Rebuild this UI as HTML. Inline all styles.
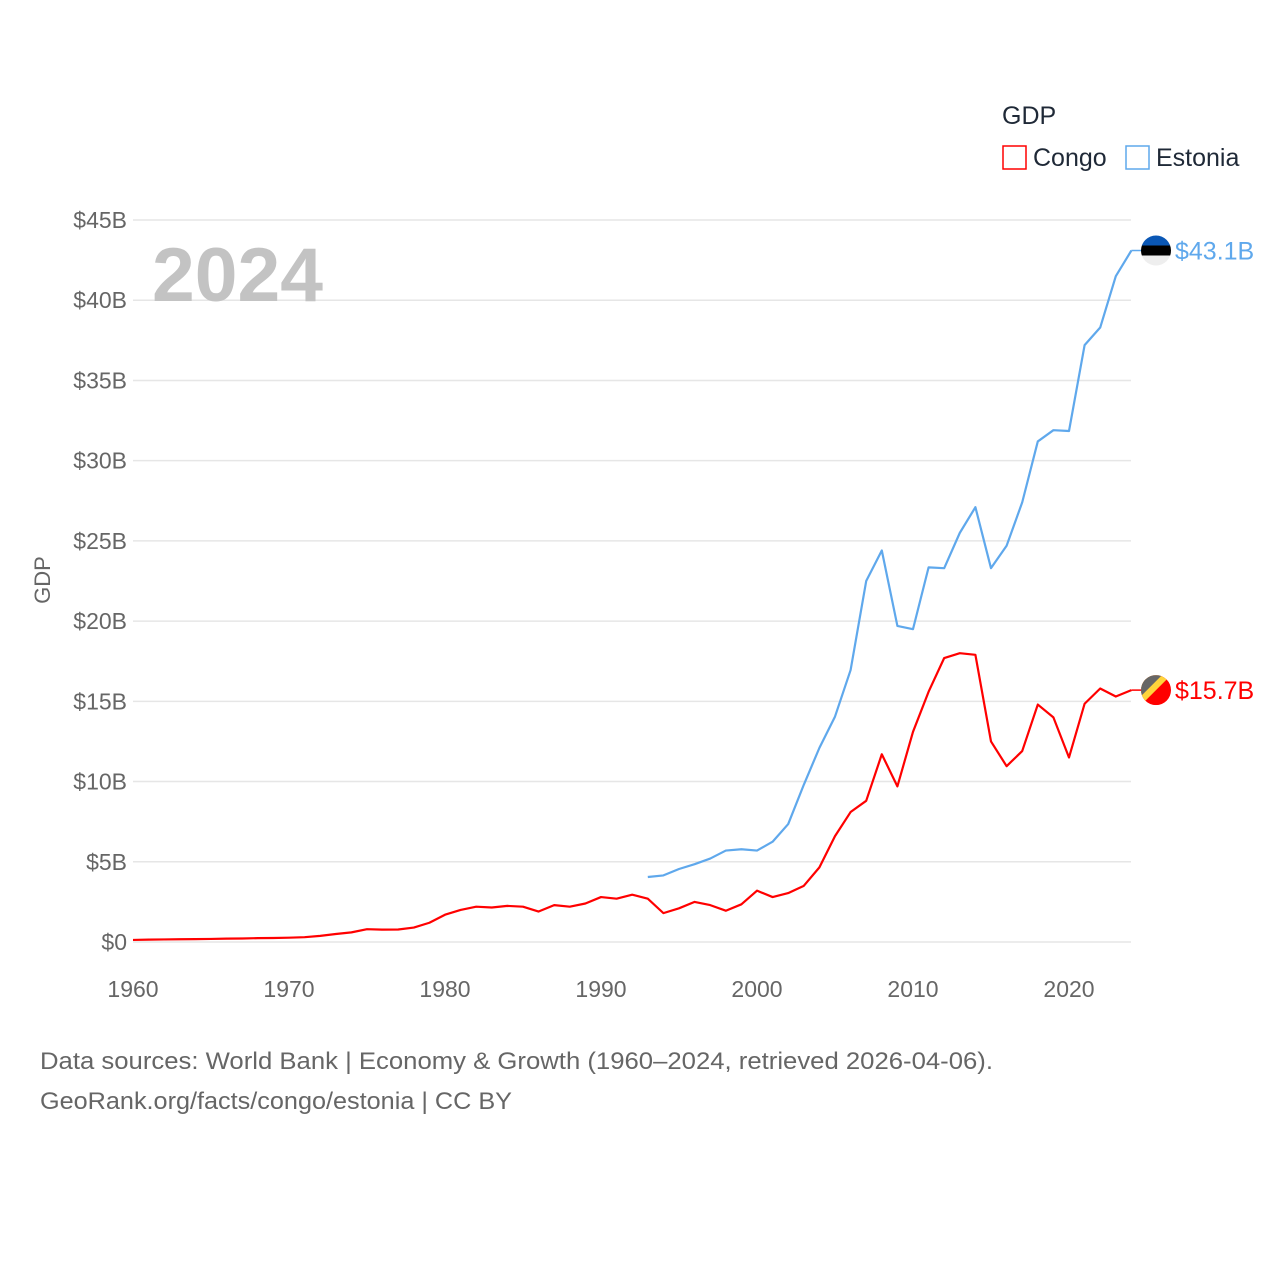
<!DOCTYPE html>
<html><head><meta charset="utf-8"><style>
body{margin:0;background:#fff;font-family:"Liberation Sans",sans-serif}
svg text{font-family:"Liberation Sans",sans-serif}
</style></head><body>
<svg id="c" width="1280" height="1280">
<rect width="1280" height="1280" fill="#fff"/>
<g id="grid"></g>
<text x="152" y="301" font-size="76" font-weight="bold" fill="#c3c3c3" textLength="171" lengthAdjust="spacingAndGlyphs">2024</text>
<text transform="translate(50,580) rotate(-90)" text-anchor="middle" font-size="22" fill="#666">GDP</text>
<g id="series"></g>
<text x="1002" y="124" font-size="25" fill="#1f2937">GDP</text>
<g><rect x="1003" y="146" width="23" height="23" fill="none" stroke="#ff0000" stroke-width="1.5"/><text x="1033" y="166" font-size="25" fill="#1f2937">Congo</text></g>
<g><rect x="1126" y="146" width="23" height="23" fill="none" stroke="#5fa8ec" stroke-width="1.5"/><text x="1156" y="166" font-size="25" fill="#1f2937">Estonia</text></g>
<text x="40" y="1069" font-size="24" fill="#666" textLength="953" lengthAdjust="spacingAndGlyphs">Data sources: World Bank | Economy &amp; Growth (1960–2024, retrieved 2026-04-06).</text>
<text x="40" y="1109" font-size="24" fill="#666" textLength="472" lengthAdjust="spacingAndGlyphs">GeoRank.org/facts/congo/estonia | CC BY</text>
</svg>
<script>
const congoYears=[1960,1961,1962,1963,1964,1965,1966,1967,1968,1969,1970,1971,1972,1973,1974,1975,1976,1977,1978,1979,1980,1981,1982,1983,1984,1985,1986,1987,1988,1989,1990,1991,1992,1993,1994,1995,1996,1997,1998,1999,2000,2001,2002,2003,2004,2005,2006,2007,2008,2009,2010,2011,2012,2013,2014,2015,2016,2017,2018,2019,2020,2021,2022,2023,2024];
const congoGDP=[0.13,0.15,0.16,0.17,0.18,0.19,0.21,0.22,0.24,0.25,0.27,0.3,0.38,0.5,0.6,0.8,0.77,0.78,0.9,1.2,1.7,2.0,2.2,2.15,2.25,2.2,1.9,2.3,2.2,2.4,2.8,2.7,2.95,2.7,1.8,2.1,2.5,2.3,1.95,2.35,3.2,2.8,3.05,3.5,4.65,6.6,8.1,8.8,11.7,9.7,13.1,15.6,17.7,18.0,17.9,12.5,10.96,11.9,14.8,14.0,11.5,14.85,15.8,15.3,15.7];
const estoniaYears=[1993,1994,1995,1996,1997,1998,1999,2000,2001,2002,2003,2004,2005,2006,2007,2008,2009,2010,2011,2012,2013,2014,2015,2016,2017,2018,2019,2020,2021,2022,2023,2024];
const estoniaGDP=[4.05,4.15,4.55,4.85,5.2,5.7,5.78,5.7,6.25,7.35,9.8,12.1,14.05,16.95,22.5,24.4,19.7,19.5,23.35,23.3,25.5,27.1,23.3,24.7,27.4,31.2,31.9,31.85,37.2,38.3,41.5,43.1];
const yTicks=[0,5,10,15,20,25,30,35,40,45];
const yTickLabels=["$0","$5B","$10B","$15B","$20B","$25B","$30B","$35B","$40B","$45B"];
const xTicks=[1960,1970,1980,1990,2000,2010,2020];
const endLabels=["$15.7B","$43.1B"];
const NS="http://www.w3.org/2000/svg";
const X=y=>133+(y-1960)*15.6;
const Y=v=>942-v*16.044;
function mk(t,a,p){const e=document.createElementNS(NS,t);for(const k in a)e.setAttribute(k,a[k]);p.appendChild(e);return e;}
const g=document.getElementById('grid');
yTicks.forEach((v,i)=>{
 const l=mk('line',{x1:133,x2:1131,y1:Y(v),y2:Y(v),stroke:'#e6e6e6','stroke-width':1.5},g);
 
 
 const t=mk('text',{x:127,y:Y(v)+8,'text-anchor':'end','font-size':23,fill:'#666'},g);
 t.textContent=yTickLabels[i];
 
 
});
xTicks.forEach(v=>{
 const t=mk('text',{x:X(v),y:997,'text-anchor':'middle','font-size':23,fill:'#666'},g);
 t.textContent=v;
 
 
});
const s=document.getElementById('series');
function line(ys,vs,col,name){
 const p=mk('polyline',{points:ys.map((y,i)=>X(y)+','+Y(vs[i])).join(' '),fill:'none',stroke:col,'stroke-width':2.2,'stroke-linejoin':'round'},s);
 
 
}
line(congoYears,congoGDP,'#ff0000','congo-line');
line(estoniaYears,estoniaGDP,'#5fa8ec','estonia-line');
function flag(v,col,lab,kind,name){
 const cx=1156,cy=Y(v);
 mk('line',{x1:X(2024),x2:cx-14,y1:cy,y2:cy,stroke:col,'stroke-width':1.5},s);
 const gg=mk('g',{},s);
 
 
 const id='clip'+name;
 const cp=mk('clipPath',{id:id},gg);mk('circle',{cx:cx,cy:cy,r:15},cp);
 const inner=mk('g',{'clip-path':'url(#'+id+')'},gg);
 if(kind==='ee'){
  mk('rect',{x:cx-15,y:cy-15,width:30,height:10,fill:'#0a57b5'},inner);
  mk('rect',{x:cx-15,y:cy-5,width:30,height:10,fill:'#000'},inner);
  mk('rect',{x:cx-15,y:cy+5,width:30,height:10,fill:'#eee'},inner);
 }else{
  mk('rect',{x:cx-15,y:cy-15,width:30,height:30,fill:'#ff0000'},inner);
  mk('polygon',{points:`${cx-15},${cy-15} ${cx+15},${cy-15} ${cx-15},${cy+15}`,fill:'#ffd43b'},inner);
  mk('polygon',{points:`${cx-15},${cy-15} ${cx+6},${cy-15} ${cx-15},${cy+6}`,fill:'#666'},inner);
 }
 const t=mk('text',{x:1175,y:cy+9,'font-size':25,fill:col},s);
 t.textContent=lab;
 
 
}
flag(congoGDP[congoGDP.length-1],'#ff0000',endLabels[0],'cg','congo');
flag(estoniaGDP[estoniaGDP.length-1],'#5fa8ec',endLabels[1],'ee','estonia');
</script>
</body></html>
